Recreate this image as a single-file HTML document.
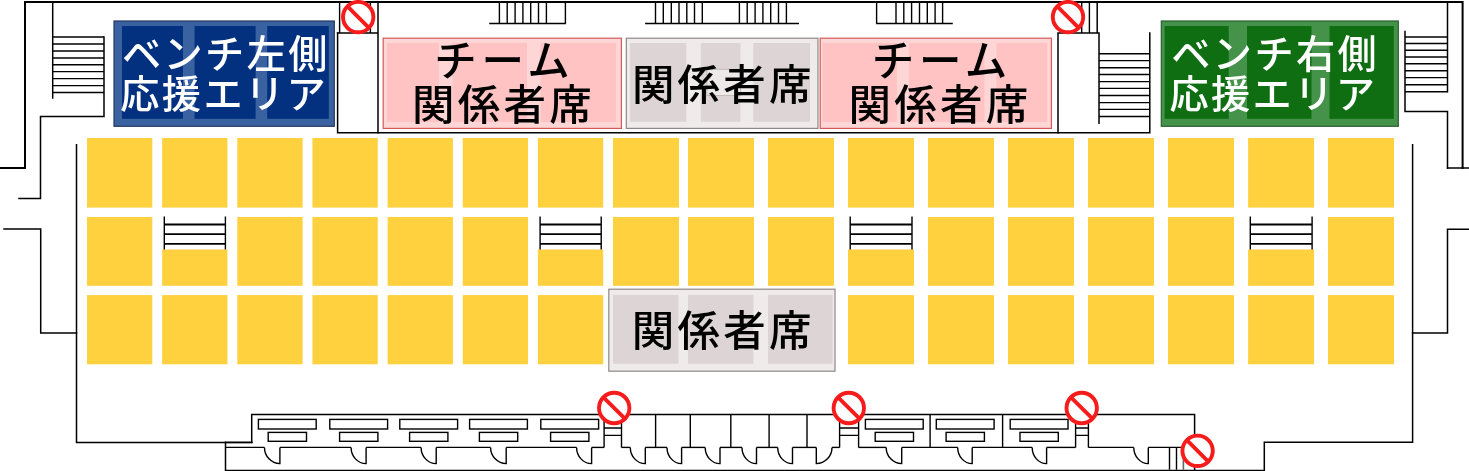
<!DOCTYPE html>
<html lang="ja">
<head>
<meta charset="utf-8">
<title>座席図</title>
<style>
html,body{margin:0;padding:0;background:#fff;}
body{width:1469px;height:471px;overflow:hidden;}
svg{display:block;}
</style>
</head>
<body>
<svg width="1469" height="471" viewBox="0 0 1469 471">
<g fill="#FFD13E">
<rect x="87.00" y="138.00" width="65.30" height="69.60"/>
<rect x="162.15" y="138.00" width="65.30" height="69.60"/>
<rect x="237.30" y="138.00" width="65.30" height="69.60"/>
<rect x="312.45" y="138.00" width="65.30" height="69.60"/>
<rect x="387.60" y="138.00" width="65.30" height="69.60"/>
<rect x="462.75" y="138.00" width="65.30" height="69.60"/>
<rect x="537.90" y="138.00" width="65.30" height="69.60"/>
<rect x="613.00" y="138.00" width="66.00" height="69.60"/>
<rect x="688.00" y="138.00" width="66.00" height="69.60"/>
<rect x="768.00" y="138.00" width="66.00" height="69.60"/>
<rect x="848.00" y="138.00" width="66.00" height="69.60"/>
<rect x="928.00" y="138.00" width="66.00" height="69.60"/>
<rect x="1008.00" y="138.00" width="66.00" height="69.60"/>
<rect x="1088.00" y="138.00" width="66.00" height="69.60"/>
<rect x="1168.00" y="138.00" width="66.00" height="69.60"/>
<rect x="1248.10" y="138.00" width="66.00" height="69.60"/>
<rect x="1328.00" y="138.00" width="66.00" height="69.60"/>
<rect x="87.00" y="217.00" width="65.30" height="68.80"/>
<rect x="162.15" y="249.5" width="65.30" height="36.3"/>
<rect x="237.30" y="217.00" width="65.30" height="68.80"/>
<rect x="312.45" y="217.00" width="65.30" height="68.80"/>
<rect x="387.60" y="217.00" width="65.30" height="68.80"/>
<rect x="462.75" y="217.00" width="65.30" height="68.80"/>
<rect x="537.90" y="249.5" width="65.30" height="36.3"/>
<rect x="613.00" y="217.00" width="66.00" height="68.80"/>
<rect x="688.00" y="217.00" width="66.00" height="68.80"/>
<rect x="768.00" y="217.00" width="66.00" height="68.80"/>
<rect x="848.00" y="249.5" width="66.00" height="36.3"/>
<rect x="928.00" y="217.00" width="66.00" height="68.80"/>
<rect x="1008.00" y="217.00" width="66.00" height="68.80"/>
<rect x="1088.00" y="217.00" width="66.00" height="68.80"/>
<rect x="1168.00" y="217.00" width="66.00" height="68.80"/>
<rect x="1248.10" y="249.5" width="66.00" height="36.3"/>
<rect x="1328.00" y="217.00" width="66.00" height="68.80"/>
<rect x="87.00" y="295.10" width="65.30" height="69.20"/>
<rect x="162.15" y="295.10" width="65.30" height="69.20"/>
<rect x="237.30" y="295.10" width="65.30" height="69.20"/>
<rect x="312.45" y="295.10" width="65.30" height="69.20"/>
<rect x="387.60" y="295.10" width="65.30" height="69.20"/>
<rect x="462.75" y="295.10" width="65.30" height="69.20"/>
<rect x="537.90" y="295.10" width="65.30" height="69.20"/>
<rect x="848.00" y="295.10" width="66.00" height="69.20"/>
<rect x="928.00" y="295.10" width="66.00" height="69.20"/>
<rect x="1008.00" y="295.10" width="66.00" height="69.20"/>
<rect x="1088.00" y="295.10" width="66.00" height="69.20"/>
<rect x="1168.00" y="295.10" width="66.00" height="69.20"/>
<rect x="1248.10" y="295.10" width="66.00" height="69.20"/>
<rect x="1328.00" y="295.10" width="66.00" height="69.20"/>
</g>
<g fill="none" stroke="#000" stroke-width="1.5" stroke-linecap="square" stroke-linejoin="miter">
<path d="M0,168 H25 V2 H1462.6 V168" stroke-width="2"/>
<path d="M1447.5,168 H1469"/>
<path d="M52.7,2 V98"/>
<path d="M104,37 V116.5 H40.5 V198.6 H19"/>
<path d="M4,229.1 H40.7 V333 H76.5"/>
<path d="M1469,229.3 H1447.5 V333 H1412.6"/>
<path d="M1447.5,2 V91.7"/>
<path d="M1405,31.5 V111.4 H1447.5 V168"/>
<path d="M76.5,144.8 V442.4 H251.7 V414.6 H1194.6 V470"/>
<path d="M225.5,442.4 V470.4 H1264.3 V442.3 H1412.6 V144.8"/>
<path d="M225.5,442.4 H252"/>
<path d="M337.6,33 H378 V132.8 M378,2 V33"/>
<path d="M337.6,33 V132.8 H1149.8 V33"/>
<path d="M1058,132.8 V33.1 H1099 V123.3 M1097.2,2 V33.1"/>
</g>
<g fill="none" stroke="#000" stroke-width="1.4" stroke-linecap="butt">
<path d="M52.7,37.0 H104"/>
<path d="M52.7,44.0 H104"/>
<path d="M52.7,51.0 H104"/>
<path d="M52.7,58.0 H104"/>
<path d="M52.7,64.7 H104"/>
<path d="M52.7,71.6 H104"/>
<path d="M52.7,78.6 H104"/>
<path d="M52.7,85.6 H104"/>
<path d="M52.7,92.5 H104"/>
<path d="M1405,37.0 H1447.5"/>
<path d="M1405,43.5 H1447.5"/>
<path d="M1405,50.2 H1447.5"/>
<path d="M1405,57.0 H1447.5"/>
<path d="M1405,63.8 H1447.5"/>
<path d="M1405,70.7 H1447.5"/>
<path d="M1405,77.6 H1447.5"/>
<path d="M1405,84.8 H1447.5"/>
<path d="M1405,91.7 H1447.5"/>
<path d="M1099,53.8 H1149.8"/>
<path d="M1099,60.6 H1149.8"/>
<path d="M1099,67.7 H1149.8"/>
<path d="M1099,74.5 H1149.8"/>
<path d="M1099,81.6 H1149.8"/>
<path d="M1099,88.4 H1149.8"/>
<path d="M1099,95.5 H1149.8"/>
<path d="M1099,102.6 H1149.8"/>
<path d="M1099,109.4 H1149.8"/>
<path d="M1099,116.5 H1149.8"/>
<path d="M339.6,2 V33"/>
<path d="M370.4,2 V33"/>
<path d="M1081.7,2 V33"/>
<path d="M1089.4,2 V33"/>
<path d="M489.2,23.5 H565.9" stroke-width="1.5"/>
<path d="M499.4,2 V23.5"/>
<path d="M507.2,2 V23.5"/>
<path d="M515.1,2 V23.5"/>
<path d="M522.9,2 V23.5"/>
<path d="M530.7,2 V23.5"/>
<path d="M538.5,2 V23.5"/>
<path d="M546.4,2 V23.5"/>
<path d="M565.4,2 V23.5"/>
<path d="M645.1,23.5 H799.0" stroke-width="1.5"/>
<path d="M655.5,2 V23.5"/>
<path d="M663.3,2 V23.5"/>
<path d="M671.3,2 V23.5"/>
<path d="M679.0,2 V23.5"/>
<path d="M686.8,2 V23.5"/>
<path d="M694.5,2 V23.5"/>
<path d="M702.3,2 V23.5"/>
<path d="M739.4,2 V23.5"/>
<path d="M747.2,2 V23.5"/>
<path d="M755.1,2 V23.5"/>
<path d="M762.9,2 V23.5"/>
<path d="M770.7,2 V23.5"/>
<path d="M778.5,2 V23.5"/>
<path d="M786.4,2 V23.5"/>
<path d="M876.2,23.5 H952.8" stroke-width="1.5"/>
<path d="M876.6,2 V23.5"/>
<path d="M896.0,2 V23.5"/>
<path d="M903.8,2 V23.5"/>
<path d="M911.6,2 V23.5"/>
<path d="M919.5,2 V23.5"/>
<path d="M927.3,2 V23.5"/>
<path d="M935.1,2 V23.5"/>
<path d="M942.6,2 V23.5"/>
<path d="M164.3,216.5 V249.5 M225.4,216.5 V249.5"/>
<path d="M164.3,224.5 H225.4" stroke-width="1.8"/>
<path d="M164.3,234.1 H225.4" stroke-width="1.8"/>
<path d="M164.3,243.8 H225.4" stroke-width="1.8"/>
<path d="M540.1,216.5 V249.5 M601.2,216.5 V249.5"/>
<path d="M540.1,224.5 H601.2" stroke-width="1.8"/>
<path d="M540.1,234.1 H601.2" stroke-width="1.8"/>
<path d="M540.1,243.8 H601.2" stroke-width="1.8"/>
<path d="M850.2,216.5 V249.5 M912.0,216.5 V249.5"/>
<path d="M850.2,224.5 H912.0" stroke-width="1.8"/>
<path d="M850.2,234.1 H912.0" stroke-width="1.8"/>
<path d="M850.2,243.8 H912.0" stroke-width="1.8"/>
<path d="M1250.3,216.5 V249.5 M1312.1,216.5 V249.5"/>
<path d="M1250.3,224.5 H1312.1" stroke-width="1.8"/>
<path d="M1250.3,234.1 H1312.1" stroke-width="1.8"/>
<path d="M1250.3,243.8 H1312.1" stroke-width="1.8"/>
</g>
<g fill="none" stroke="#000" stroke-width="1.4">
<rect x="258.4" y="419.4" width="57.8" height="9.6"/>
<rect x="268.2" y="432.4" width="38.3" height="8.9"/>
<rect x="329.8" y="419.4" width="57.8" height="9.6"/>
<rect x="339.6" y="432.4" width="38.3" height="8.9"/>
<rect x="399.8" y="419.4" width="57.8" height="9.6"/>
<rect x="409.6" y="432.4" width="38.3" height="8.9"/>
<rect x="469.6" y="419.4" width="57.8" height="9.6"/>
<rect x="479.4" y="432.4" width="38.3" height="8.9"/>
<rect x="540.8" y="419.4" width="57.8" height="9.6"/>
<rect x="550.6" y="432.4" width="38.3" height="8.9"/>
<rect x="865.4" y="419.4" width="57.8" height="9.6"/>
<rect x="875.2" y="432.4" width="38.3" height="8.9"/>
<rect x="936.3" y="419.4" width="57.8" height="9.6"/>
<rect x="946.1" y="432.4" width="38.3" height="8.9"/>
<rect x="1010.2" y="419.4" width="57.8" height="9.6"/>
<rect x="1020.0" y="432.4" width="38.3" height="8.9"/>
<path d="M264.5,447.4 A15.4,16.2 0 0 0 279.9,463.6 V447.4"/>
<path d="M351.1,447.4 A15.0,16.2 0 0 0 366.1,463.6 V447.4"/>
<path d="M421.1,447.4 A15.1,16.2 0 0 0 436.2,463.6 V447.4"/>
<path d="M490.6,447.4 A15.6,16.2 0 0 0 506.2,463.6 V447.4"/>
<path d="M576.6,447.4 A15.0,16.2 0 0 0 591.6,463.6 V447.4"/>
<path d="M630.3,447.4 A15.0,16.2 0 0 0 645.3,463.6 V447.4"/>
<path d="M667.0,447.4 A14.6,16.2 0 0 0 681.6,463.6 V447.4"/>
<path d="M705.2,447.4 A14.8,16.2 0 0 0 720.0,463.6 V447.4"/>
<path d="M742.0,447.4 A14.5,16.2 0 0 0 756.5,463.6 V447.4"/>
<path d="M777.7,447.4 A14.8,16.2 0 0 0 792.5,463.6 V447.4"/>
<path d="M886.2,447.4 A15.5,16.2 0 0 0 901.7,463.6 V447.4"/>
<path d="M957.7,447.4 A14.5,16.2 0 0 0 972.2,463.6 V447.4"/>
<path d="M1032.2,447.4 A14.4,16.2 0 0 0 1046.6,463.6 V447.4"/>
<path d="M1133.8,447.4 A14.5,16.2 0 0 0 1148.3,463.6 V447.4"/>
<path d="M832.0,447.4 A15.7,16.2 0 0 1 816.3,463.6 V447.4"/>
<path d="M225.5,447.4 H264.5"/>
<path d="M279.9,447.4 H351.1"/>
<path d="M366.1,447.4 H421.1"/>
<path d="M436.2,447.4 H490.6"/>
<path d="M506.2,447.4 H576.6"/>
<path d="M591.6,447.4 H604.1"/>
<path d="M621.5,447.4 H630.3"/>
<path d="M645.3,447.4 H667.0"/>
<path d="M681.6,447.4 H705.2"/>
<path d="M720.0,447.4 H742.0"/>
<path d="M756.5,447.4 H777.7"/>
<path d="M792.5,447.4 H816.3"/>
<path d="M832.0,447.4 H839.6"/>
<path d="M858.6,447.4 H886.2"/>
<path d="M901.7,447.4 H957.7"/>
<path d="M972.2,447.4 H1032.2"/>
<path d="M1046.6,447.4 H1075.6"/>
<path d="M1088.4,447.4 H1133.8"/>
<path d="M1148.3,447.4 H1194.6"/>
<path d="M655.6,414.6 V447.4"/>
<path d="M690.3,414.6 V447.4"/>
<path d="M730.8,414.6 V447.4"/>
<path d="M769.1,414.6 V447.4"/>
<path d="M807.0,414.6 V447.4"/>
<path d="M930.1,414.6 V447.4"/>
<path d="M1002.6,414.6 V447.4"/>
<path d="M604.1,414.6 V447.4 M621.5,414.6 V447.4 M604.1,428 H621.5 M604.1,435.4 H621.5"/>
<path d="M839.6,414.6 V447.4 M858.6,414.6 V447.4 M839.6,428 H858.6 M839.6,435.4 H858.6"/>
<path d="M1075.6,414.6 V447.4 M1088.4,414.6 V447.4 M1075.6,428 H1088.4 M1075.6,435.4 H1088.4"/>
<path d="M1169.5,447.4 V469.8 M1176.5,447.4 V469.8"/>
<path d="M1183.4,447.4 V469.8" stroke="#666" stroke-width="1.6"/>
</g>
<rect x="114.00" y="21.00" width="220.30" height="105.30" fill="#3A62A0" stroke="#26385F" stroke-width="1.2"/>
<rect x="122.00" y="26.00" width="61.00" height="92.80" fill="#03317F"/>
<rect x="194.60" y="26.00" width="61.00" height="92.80" fill="#03317F"/>
<rect x="267.20" y="26.00" width="61.60" height="92.80" fill="#03317F"/>
<rect x="1161.30" y="21.00" width="237.00" height="105.30" fill="#45934A" stroke="#2E5E30" stroke-width="1.2"/>
<rect x="1164.60" y="26.00" width="64.10" height="92.80" fill="#0F6D12"/>
<rect x="1247.00" y="26.00" width="64.50" height="92.80" fill="#0F6D12"/>
<rect x="1329.50" y="26.00" width="64.30" height="92.80" fill="#0F6D12"/>
<rect x="383.20" y="38.20" width="238.20" height="90.20" fill="#FFD6D6" stroke="#D25A5A" stroke-width="1.2"/>
<rect x="387.00" y="43.00" width="51.80" height="79.00" fill="#FFC3C3"/>
<rect x="452.50" y="43.00" width="74.50" height="79.00" fill="#FFC3C3"/>
<rect x="540.50" y="43.00" width="75.50" height="79.00" fill="#FFC3C3"/>
<rect x="820.20" y="38.20" width="231.20" height="90.20" fill="#FFD6D6" stroke="#D25A5A" stroke-width="1.2"/>
<rect x="822.50" y="43.00" width="74.30" height="79.00" fill="#FFC3C3"/>
<rect x="908.90" y="43.00" width="75.60" height="79.00" fill="#FFC3C3"/>
<rect x="996.30" y="43.00" width="50.90" height="79.00" fill="#FFC3C3"/>
<rect x="626.30" y="38.20" width="191.70" height="90.20" fill="#EFEBEB" stroke="#8F8888" stroke-width="1.2"/>
<rect x="630.00" y="43.00" width="56.30" height="78.80" fill="#DDD5D5"/>
<rect x="700.80" y="43.00" width="39.70" height="78.80" fill="#DDD5D5"/>
<rect x="753.30" y="43.00" width="56.70" height="78.80" fill="#DDD5D5"/>
<rect x="707" y="69.3" width="33.4" height="26.3" fill="#EEE9E9" stroke="#B9B1B1" stroke-width="0.8"/>
<rect x="608.80" y="289.20" width="226.20" height="82.00" fill="#EFEBEB" stroke="#8F8888" stroke-width="1.2"/>
<rect x="613.00" y="295.00" width="65.40" height="68.80" fill="#DDD5D5"/>
<rect x="688.00" y="295.00" width="65.40" height="68.80" fill="#DDD5D5"/>
<rect x="768.00" y="295.00" width="64.60" height="68.80" fill="#DDD5D5"/>
<defs><filter id="gs" x="0" y="0" width="100%" height="100%" filterUnits="userSpaceOnUse" color-interpolation-filters="sRGB"><feOffset dx="0" dy="0"/></filter></defs>
<g filter="url(#gs)">
<text x="225.9" y="67.6" font-size="39.2" fill="#fff" text-anchor="middle" font-family="'Liberation Sans','Noto Sans CJK JP',sans-serif" letter-spacing="2.4" font-weight="500">ベンチ左側</text>
<text x="224.2" y="107.8" font-size="39.2" fill="#fff" text-anchor="middle" font-family="'Liberation Sans','Noto Sans CJK JP',sans-serif" letter-spacing="2.4" font-weight="500">応援エリア</text>
<text x="1275.2" y="67.6" font-size="39.2" fill="#fff" text-anchor="middle" font-family="'Liberation Sans','Noto Sans CJK JP',sans-serif" letter-spacing="2.4" font-weight="500">ベンチ右側</text>
<text x="1273.4" y="107.8" font-size="39.2" fill="#fff" text-anchor="middle" font-family="'Liberation Sans','Noto Sans CJK JP',sans-serif" letter-spacing="2.4" font-weight="500">応援エリア</text>
<text x="504.3" y="76.0" font-size="42.5" fill="#000" text-anchor="middle" font-family="'Liberation Sans','Noto Sans CJK JP',sans-serif" letter-spacing="4.6" font-weight="500">チーム</text>
<text x="503.5" y="120.0" font-size="42.5" fill="#000" text-anchor="middle" font-family="'Liberation Sans','Noto Sans CJK JP',sans-serif" letter-spacing="3.2" font-weight="500">関係者席</text>
<text x="941.8" y="76.0" font-size="42.5" fill="#000" text-anchor="middle" font-family="'Liberation Sans','Noto Sans CJK JP',sans-serif" letter-spacing="4.6" font-weight="500">チーム</text>
<text x="940.0" y="120.0" font-size="42.5" fill="#000" text-anchor="middle" font-family="'Liberation Sans','Noto Sans CJK JP',sans-serif" letter-spacing="3.2" font-weight="500">関係者席</text>
<text x="723.3" y="99.5" font-size="42.5" fill="#000" text-anchor="middle" font-family="'Liberation Sans','Noto Sans CJK JP',sans-serif" letter-spacing="3.2" font-weight="500">関係者席</text>
<text x="723.2" y="346.0" font-size="42.5" fill="#000" text-anchor="middle" font-family="'Liberation Sans','Noto Sans CJK JP',sans-serif" letter-spacing="3.2" font-weight="500">関係者席</text>
</g>
<g stroke="#F61C1C" stroke-width="3.9" fill="none"><circle cx="358.2" cy="17.1" r="15.2" fill="#fff"/>
<path d="M347.49,6.39 L368.91,27.81"/></g>
<g stroke="#F61C1C" stroke-width="3.9" fill="none"><circle cx="1068.0" cy="17.1" r="15.2" fill="#fff"/>
<path d="M1057.29,6.39 L1078.71,27.81"/></g>
<g stroke="#F61C1C" stroke-width="3.9" fill="none"><circle cx="614.2" cy="408.0" r="15.2" fill="#fff"/>
<path d="M603.49,397.29 L624.91,418.71"/></g>
<g stroke="#F61C1C" stroke-width="3.9" fill="none"><circle cx="848.8" cy="408.0" r="15.2" fill="#fff"/>
<path d="M838.09,397.29 L859.51,418.71"/></g>
<g stroke="#F61C1C" stroke-width="3.9" fill="none"><circle cx="1081.7" cy="408.0" r="15.2" fill="#fff"/>
<path d="M1070.99,397.29 L1092.41,418.71"/></g>
<g stroke="#F61C1C" stroke-width="3.9" fill="none"><circle cx="1197.6" cy="450.8" r="15.2" fill="#fff"/>
<path d="M1186.89,440.09 L1208.31,461.51"/></g>
</svg>
</body>
</html>
